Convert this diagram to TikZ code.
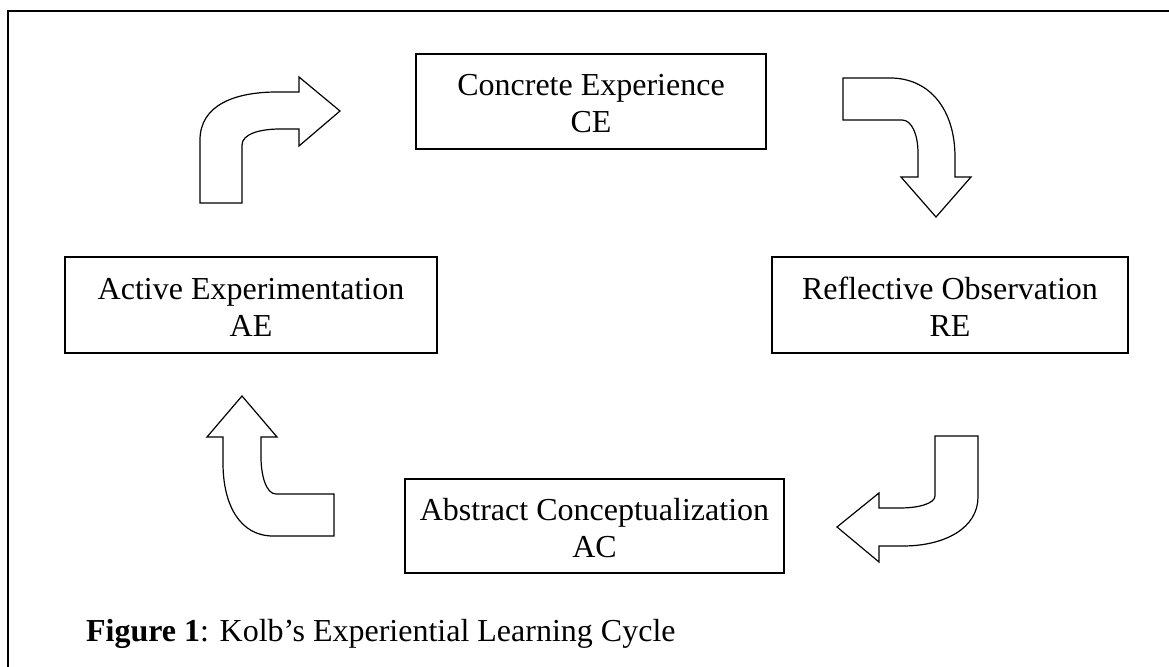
\documentclass[tikz,border=0pt]{standalone}
\usepackage{fontspec}
\setmainfont{Liberation Serif}

\begin{document}
\begin{tikzpicture}[
      x=0.5pt, y=-0.5pt,
      stage node/.style={draw, line width=0.6pt, align=center, inner sep=0pt, font=\fontsize{16}{18.5}\selectfont},
      turn arrow/.style={draw, line width=0.6pt, line join=miter}
    ]
    \useasboundingbox (0,0) rectangle (1169,667);
    % Frame
    \draw[line width=0.8pt] (8,667) -- (8,11) -- (1169,11);

    % Stages of the cycle
    \node (ce) [stage node, minimum width=175pt, minimum height=47.5pt] at (591,101.5) {\rule{0pt}{13pt}Concrete Experience\\CE};
    \node (re) [stage node, minimum width=178pt, minimum height=48pt] at (950,305) {\rule{0pt}{13pt}Reflective Observation\\RE};
    \node (ac) [stage node, minimum width=189.5pt, minimum height=47pt] at (594.5,526) {\rule{0pt}{13pt}Abstract Conceptualization\\AC};
    \node (ae) [stage node, minimum width=186pt, minimum height=48pt] at (251,305) {\rule{0pt}{13pt}Active Experimentation\\AE};

    % Bent arrows between the stages
    \draw[turn arrow] (200,203) -- (200,140) .. controls (200,105) and (235,92) .. (277,92) -- (299,92) -- (299,77) -- (340,111) -- (299,146) -- (299,129) -- (280,129) .. controls (260,129) and (242,134) .. (242,145) -- (242,203) -- cycle;
    \draw[turn arrow] (843,78) -- (890,78) .. controls (930,78) and (955,110) .. (955,157) -- (955,177) -- (971,177) -- (936,217) -- (901,177) -- (918,177) -- (918,153) .. controls (918,135) and (912,120) .. (902,120) -- (843,120) -- cycle;
    \draw[turn arrow] (935,436) -- (978,436) -- (978,497) .. controls (978,528) and (945,546) .. (903,546) -- (879,546) -- (879,562) -- (837,527) -- (879,493) -- (879,508) -- (900,508) .. controls (920,508) and (935,503) .. (935,496) -- cycle;
    \draw[turn arrow] (334,536) -- (273,536) .. controls (240,536) and (223,505) .. (223,463) -- (223,437) -- (207,437) -- (242,396) -- (277,437) -- (261,437) -- (261,457) .. controls (261,475) and (266,494) .. (276,494) -- (334,494) -- cycle;

    % Caption
    \node (caption) [anchor=base west, font=\fontsize{16}{18.5}\selectfont] at (79,642) {\textbf{Figure 1}: Kolb’s Experiential Learning Cycle};
  \end{tikzpicture}
\end{document}
